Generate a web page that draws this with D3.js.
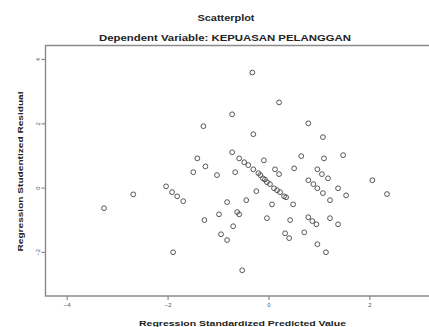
<!DOCTYPE html>
<html>
<head>
<meta charset="utf-8">
<script src="https://cdn.jsdelivr.net/npm/d3@7"></script>
<style>
  html, body { margin: 0; padding: 0; background: #fff; }
  svg { display: block; }
</style>
</head>
<body>
<svg id="chart" width="429" height="327"></svg>
<script>
// ---- data ----
const title = "Scatterplot";
const subtitle = "Dependent Variable: KEPUASAN PELANGGAN";
const xTitle = "Regression Standardized Predicted Value";
const yTitle = "Regression Studentized Residual";
const xTicks = [-4, -2, 0, 2];
const yTicks = [-2, 0, 2, 4];
// standardized predicted values
const predicted = [
  -0.32, 0.21, -0.72, -1.29, -0.30, 0.79, 1.08, 1.48, 1.10, 0.65,
  0.51, -0.72, -1.25, -1.41, -1.49, -1.02, -0.66, -0.09, 0.13, 0.21,
  -0.58, -0.48, -0.40, -0.30, -0.20, -0.16, -0.11, -0.07, -0.03, 0.03,
  0.11, 0.17, 0.23, 0.31, 0.35, -0.24, -0.44, -0.82, 0.07, 0.49,
  -1.27, -0.98, -0.62, -0.58, -0.70, -0.94, -0.82, -0.52, -0.03, 0.43,
  0.33, 0.41, 0.71, 0.97, 1.06, 1.18, 0.79, 0.89, 0.97, 1.08,
  1.22, 1.38, 1.54, 2.06, 2.35, 0.79, 0.87, 0.95, 1.22, 1.38,
  0.97, 1.14, -3.26, -2.68, -2.03, -1.91, -1.81, -1.69, -1.89
];
// studentized residuals
const residual = [
  3.58, 2.65, 2.28, 1.91, 1.66, 2.00, 1.57, 1.01, 0.91, 0.98,
  0.60, 1.10, 0.66, 0.91, 0.48, 0.39, 0.48, 0.85, 0.57, 0.42,
  0.91, 0.79, 0.70, 0.57, 0.45, 0.39, 0.29, 0.25, 0.17, 0.11,
  -0.02, -0.08, -0.14, -0.27, -0.30, -0.11, -0.39, -0.45, -0.52, -0.52,
  -1.01, -0.83, -0.76, -0.83, -1.20, -1.45, -1.63, -2.57, -0.95, -1.01,
  -1.42, -1.57, -1.39, 0.57, 0.42, 0.29, 0.23, 0.11, -0.02, -0.17,
  -0.39, -0.02, -0.24, 0.23, -0.20, -0.92, -1.04, -1.14, -0.95, -1.14,
  -1.76, -2.01, -0.64, -0.21, 0.04, -0.14, -0.27, -0.42, -2.01
];

// ---- layout ----
const svg = d3.select("#chart");
const mLeft = 45.5, mTop = 45.5, mBottom = 296, mRight = 445;
const x = d3.scaleLinear().domain([-4.42, 3.50]).range([mLeft, mRight]);
const y = d3.scaleLinear().domain([-3.37, 4.42]).range([mBottom, mTop]);

const font = "'Liberation Sans', Arial, sans-serif";
const textCol = "#222";
const axisCol = "#8a8a8a";

// titles
svg.append("text").attr("x", 226).attr("y", 20.5)
  .attr("text-anchor", "middle").attr("font-family", font)
  .attr("font-weight", "bold").attr("font-size", 9).attr("fill", textCol)
  .attr("textLength", 57).attr("lengthAdjust", "spacingAndGlyphs")
  .text(title);
svg.append("text").attr("x", 225).attr("y", 40.5)
  .attr("text-anchor", "middle").attr("font-family", font)
  .attr("font-weight", "bold").attr("font-size", 9).attr("fill", textCol)
  .attr("textLength", 252).attr("lengthAdjust", "spacingAndGlyphs")
  .text(subtitle);

// frame
svg.append("path")
  .attr("d", `M${mRight},${mTop}H${mLeft}V${mBottom}H${mRight}`)
  .attr("fill", "none").attr("stroke", axisCol).attr("stroke-width", 1.4);

// y axis ticks
const yAxis = d3.axisLeft(y).tickValues(yTicks).tickSize(4).tickFormat(d3.format("d"));
const gy = svg.append("g").attr("transform", `translate(${mLeft},0)`).call(yAxis);
gy.select(".domain").remove();
gy.selectAll(".tick line").attr("stroke", axisCol).attr("stroke-width", 1.2);
gy.selectAll(".tick text")
  .attr("font-family", font).attr("font-size", 6).attr("fill", "#555")
  .attr("text-anchor", "middle").attr("x", 0).attr("dy", 0)
  .attr("transform", "translate(-7.5,0) rotate(-90)")
  .attr("y", 0).attr("dominant-baseline", "middle");

// x axis ticks
const xAxis = d3.axisBottom(x).tickValues(xTicks).tickSize(4).tickFormat(d3.format("d"));
const gx = svg.append("g").attr("transform", `translate(0,${mBottom})`).call(xAxis);
gx.select(".domain").remove();
gx.selectAll(".tick line").attr("stroke", axisCol).attr("stroke-width", 1.2);
gx.selectAll(".tick text")
  .attr("font-family", font).attr("font-size", 6).attr("fill", "#555")
  .attr("y", 7).attr("dy", "0.71em");

// axis titles
svg.append("text").attr("x", 242.5).attr("y", 325.5)
  .attr("text-anchor", "middle").attr("font-family", font)
  .attr("font-weight", "bold").attr("font-size", 8).attr("fill", textCol)
  .attr("textLength", 207).attr("lengthAdjust", "spacingAndGlyphs")
  .text(xTitle);
svg.append("text")
  .attr("transform", "translate(23,171.5) rotate(-90)")
  .attr("text-anchor", "middle").attr("font-family", font)
  .attr("font-weight", "bold").attr("font-size", 8).attr("fill", textCol)
  .attr("textLength", 160).attr("lengthAdjust", "spacingAndGlyphs")
  .text(yTitle);

// points
const pts = predicted.map((p, i) => ({ px: p, ry: residual[i] }));
svg.append("g").selectAll("circle").data(pts).join("circle")
  .attr("cx", d => x(d.px)).attr("cy", d => y(d.ry))
  .attr("r", 2.4).attr("fill", "none")
  .attr("stroke", "#444").attr("stroke-width", 0.9);
</script>
</body>
</html>
